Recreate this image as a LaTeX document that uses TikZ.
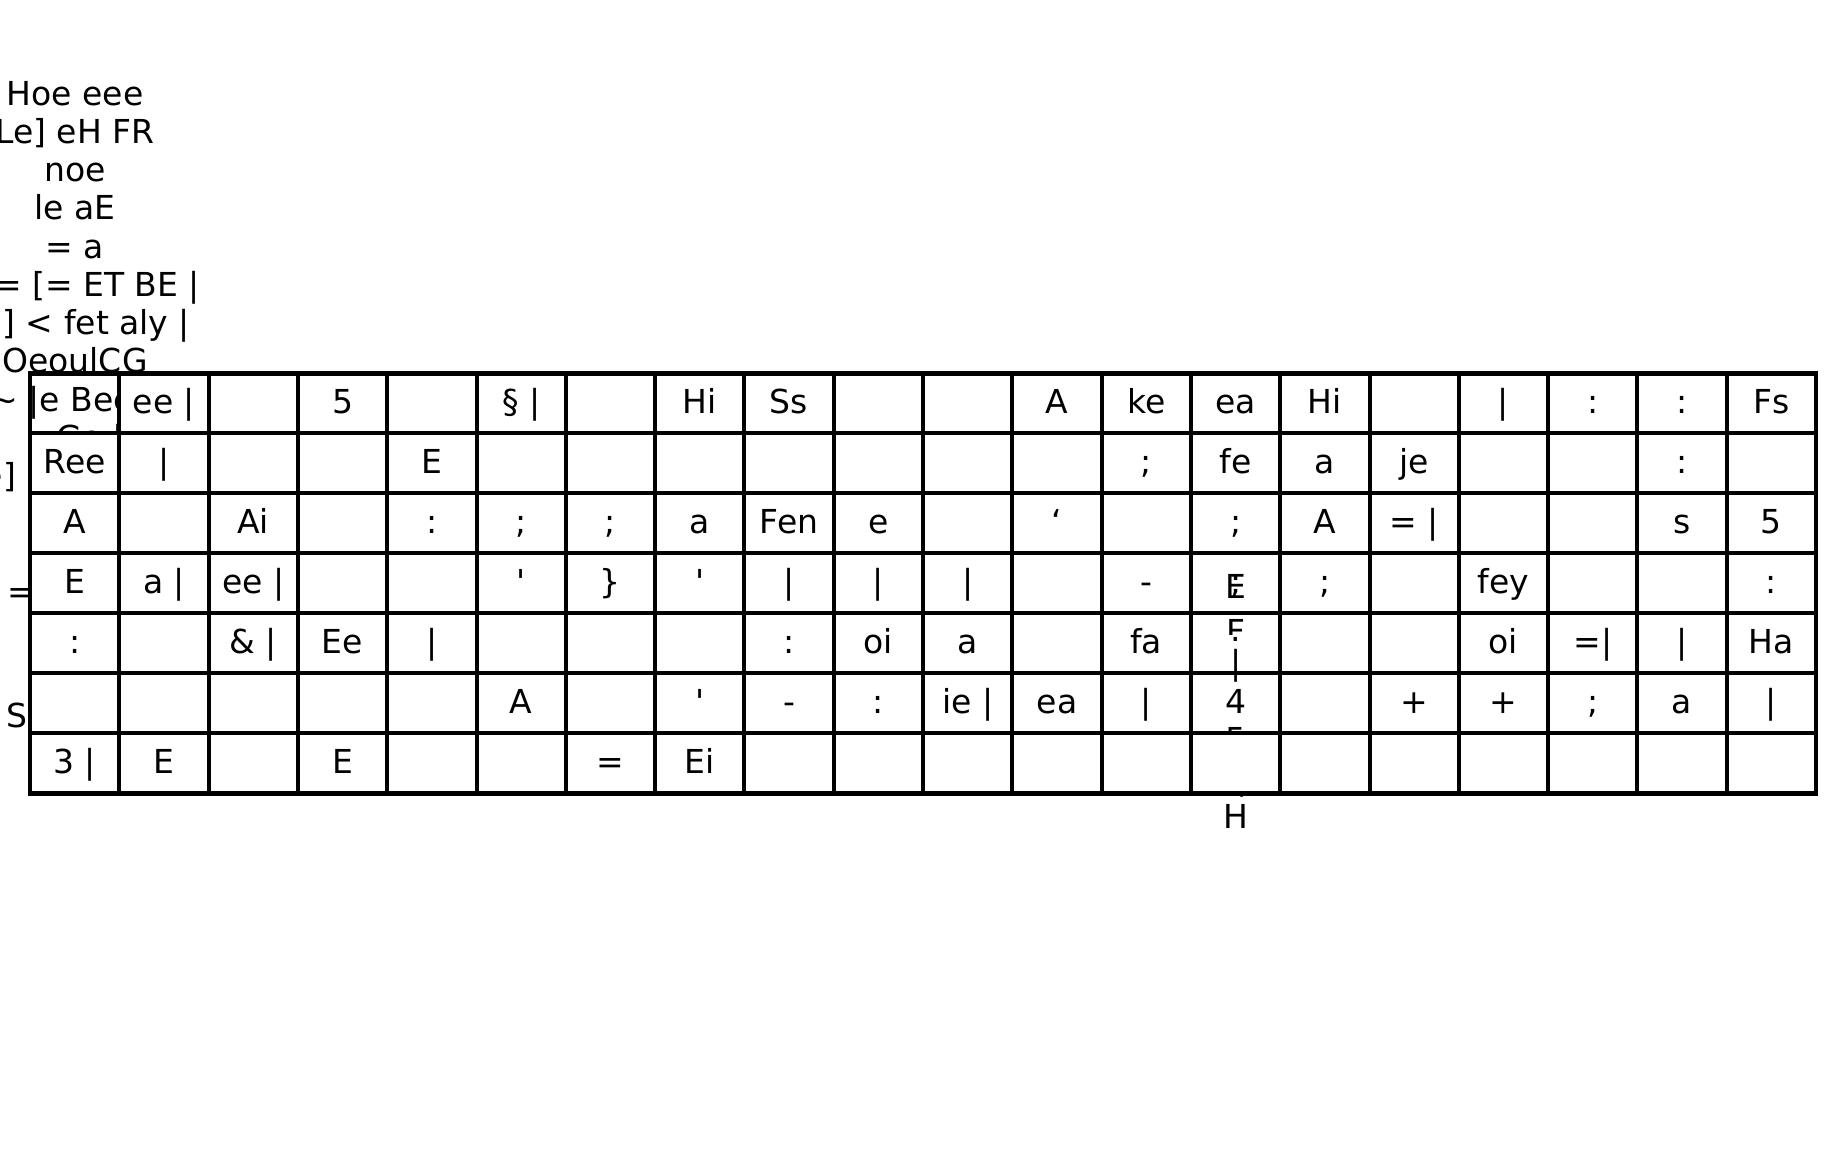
\documentclass[tikz,border=0pt]{standalone}
\usepackage{fontspec}
\setmainfont{DejaVu Sans}[Ligatures=TeXOff]
\newcommand\txtfont{\fontsize{16.5pt}{18pt}\selectfont}
\tikzset{
  bgtext/.style={font=\txtfont, inner sep=0pt, outer sep=0pt, anchor=base, text=black},
  cellbox/.style={draw=black, fill=white, line width=2pt, inner sep=0pt, outer sep=0pt,
    minimum width=44.65pt, minimum height=30pt, text height=12pt, text depth=2pt,
    font=\txtfont, anchor=center},
  outerframe/.style={draw=black, line width=2.4pt}
}
\newcommand\tc[3]{\node[cellbox] (c#1-#2) at ({30+89.3*(#2-0.5)},{373.3+60*(#1-0.5)}) {#3};}
\begin{document}
\begin{tikzpicture}[x=0.5pt,y=-0.5pt]
\useasboundingbox (0,0) rectangle (1845,1168);
\fill[white] (0,0) rectangle (1845,1168);
% background column of text (left)
\node[bgtext] (l1) at (75,105) {Hoe eee};
\node[bgtext] (l2) at (75,143.3) {Le] eH FR};
\node[bgtext] (l3) at (75,181.5) {noe};
\node[bgtext] (l4) at (75,219.7) {le aE};
\node[bgtext] (l5) at (75,258) {= a};
\node[bgtext, anchor=base east] (l6) at (200,296) {= [= ET BE |};
\node[bgtext, anchor=base east] (l7) at (190,334.3) {] < fet aly |};
\node[bgtext] (l8) at (75,372.5) {OeoulCG};
\node[bgtext, anchor=base east] (l11) at (16,487) {e]};
\node[bgtext, anchor=base west] (l12) at (8,603) {=};
\node[bgtext, anchor=base west] (l13) at (6,727) {S};
% empty grid
\foreach \i in {1,...,7}{
  \foreach \j in {1,...,20}{
    \node[cellbox] (g\i-\j) at ({30+89.3*(\j-0.5)},{373.3+60*(\i-0.5)}) {};
  }
}
% cell texts (row, column, text)
\tc{1}{2}{ee |}\tc{1}{4}{5}\tc{1}{6}{§ |}\tc{1}{8}{Hi}\tc{1}{9}{Ss}\tc{1}{12}{A}
\tc{1}{13}{ke}\tc{1}{14}{ea}\tc{1}{15}{Hi}\tc{1}{17}{|}\tc{1}{18}{:}\tc{1}{19}{:}\tc{1}{20}{Fs}
\tc{2}{1}{Ree}\tc{2}{2}{|}\tc{2}{5}{E}\tc{2}{13}{;}\tc{2}{14}{fe}\tc{2}{15}{a}\tc{2}{16}{je}\tc{2}{19}{:}
\tc{3}{1}{A}\tc{3}{3}{Ai}\tc{3}{5}{:}\tc{3}{6}{;}\tc{3}{7}{;}\tc{3}{8}{a}\tc{3}{9}{Fen}\tc{3}{10}{e}
\tc{3}{12}{‘}\tc{3}{14}{;}\tc{3}{15}{A}\tc{3}{16}{= |}\tc{3}{19}{s}\tc{3}{20}{5}
\tc{4}{1}{E}\tc{4}{2}{a |}\tc{4}{3}{ee |}\tc{4}{6}{'}\tc{4}{7}{\}}\tc{4}{8}{'}\tc{4}{9}{|}\tc{4}{10}{|}
\tc{4}{11}{|}\tc{4}{13}{-}\tc{4}{14}{;}\tc{4}{15}{;}\tc{4}{17}{fey}\tc{4}{20}{:}
\tc{5}{1}{:}\tc{5}{3}{\& |}\tc{5}{4}{Ee}\tc{5}{5}{|}\tc{5}{9}{:}\tc{5}{10}{oi}\tc{5}{11}{a}\tc{5}{13}{fa}
\tc{5}{17}{oi}\tc{5}{18}{=|}\tc{5}{19}{|}\tc{5}{20}{Ha}
\tc{6}{6}{A}\tc{6}{8}{'}\tc{6}{9}{-}\tc{6}{10}{:}\tc{6}{11}{ie |}\tc{6}{12}{ea}\tc{6}{13}{|}\tc{6}{14}{4}
\tc{6}{16}{+}\tc{6}{17}{+}\tc{6}{18}{;}\tc{6}{19}{a}\tc{6}{20}{|}
\tc{7}{1}{3 |}\tc{7}{2}{E}\tc{7}{4}{E}\tc{7}{7}{=}\tc{7}{8}{Ei}
% background text showing through the first cell
\begin{scope}
  \clip (-20,376) rectangle (117,431.3);
  \node[bgtext, anchor=base west] (l9) at (-9.4,411) {\textasciitilde{} |e Bee |};
  \node[bgtext, anchor=base west] (l10) at (56,449) {Ge |};
\end{scope}
% vertical text running through column 14
\node[bgtext] (vE) at (1235.6,598) {E};
\begin{scope}
  \clip (1205,600) rectangle (1265,634);
  \node[bgtext] (vF) at (1235.6,643.7) {F};
\end{scope}
\node[bgtext] (vdot) at (1235.6,641) {.};
\node[bgtext] (vbar) at (1235.6,674.3) {|};
\node[bgtext] (v5) at (1235.6,751) {5};
\node[bgtext] (vbar2) at (1242,789) {|};
\tc{7}{14}{}
\node[bgtext] (vH) at (1235.6,828) {H};
% outer frame
\draw[outerframe] (g1-1.north west) rectangle (g7-20.south east);
\end{tikzpicture}
\end{document}
